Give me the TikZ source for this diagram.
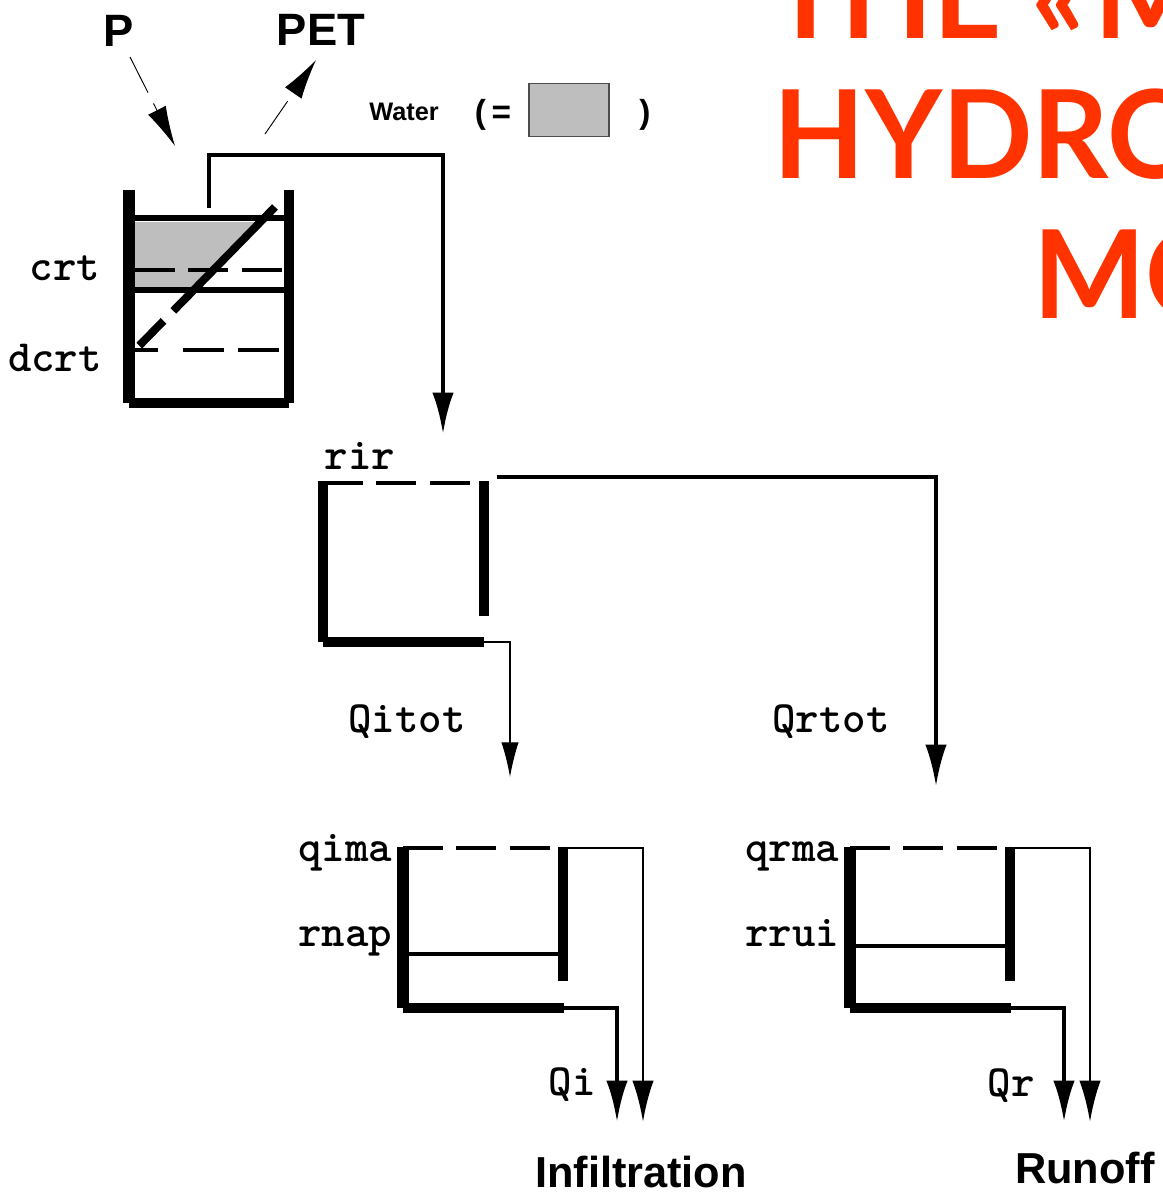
\documentclass[tikz,border=0pt]{standalone}
\usepackage{fontspec}
\setmainfont{Liberation Sans}
\newfontfamily\titlefont[FakeStretch=0.97]{Lato}
\usetikzlibrary{arrows.meta}
\definecolor{waterc}{RGB}{190,190,190}
\definecolor{titlec}{RGB}{255,51,0}

\begin{document}
\begin{tikzpicture}[
  x=0.75pt,y=-0.75pt,
  ttl/.style={font=\titlefont\fontsize{92}{92}\selectfont\bfseries,text=titlec,inner sep=0pt,anchor=base west},
  hd/.style={font=\fontsize{32.5}{32.5}\selectfont\bfseries,inner sep=0pt,anchor=base},
  lbl/.style={font=\ttfamily\bfseries\fontsize{33.5}{33.5}\selectfont,inner sep=0pt,anchor=base},
  wall/.style={line width=9pt},
  rwall/.style={line width=7.5pt},
  floor/.style={line width=8pt},
  dashline/.style={line width=3.5pt,dash pattern=on 30pt off 10pt},
  ar/.style={-{Latex[length=31pt,width=16pt]}},
  arflux/.style={ar,line width=3.2pt},
  arover/.style={ar,line width=2.2pt},
  arthin/.style={-{Latex[length=30pt,width=15pt]},line width=0.7pt,dash pattern=on 30pt off 9pt}
]
\clip (0,0) rectangle (1163,1196);
% title
\node[ttl] (t1) at (770,38) {THE\hspace{22pt}«\hspace{7pt}M};
\node[ttl] (t2) at (773,178) {HYDRO};
\node[ttl] (t3) at (1033,318) {MO};
% evaporation and rain
\node[hd,font=\fontsize{34}{34}\selectfont\bfseries] (p) at (119,46) {P};
\node[hd,font=\fontsize{34}{34}\selectfont\bfseries] (pet) at (321,45) {PET};
\coordinate (pin) at (130,57);
\coordinate (pout) at (175,146);
\coordinate (etin) at (265,134);
\coordinate (etout) at (316,60);
\draw[arthin] (pin)--(pout);
\draw[arthin] (etin)--(etout);
% legend
\node[font=\bfseries\fontsize{19}{19}\selectfont,inner sep=0pt] (water) at (404,112) {Water};
\node[font=\bfseries\fontsize{25}{25}\selectfont,inner sep=0pt] (eq) at (493,115) {(\,=};
\node[draw=black!70,fill=waterc,line width=0.8pt,minimum width=60pt,minimum height=40pt,inner sep=0pt] (swatch) at (569,110) {};
\node[font=\bfseries\fontsize{25}{25}\selectfont,inner sep=0pt] (cl) at (645,115) {)};
% top tank
\fill[waterc] (135,222)--(258,222)--(194,288)--(135,290)--cycle;
\draw[wall] (129,190)--(129,403);
\draw[rwall] (289,190)--(289,403);
\draw[floor] (129,403)--(289,403);
\draw[line width=5pt] (135,218)--(285,218);
\draw[line width=5pt] (135,290)--(285,290);
\draw[dashline] (135,270)--(285,270);
\draw[line width=3.5pt,dash pattern=on 17pt off 19pt on 31pt off 10pt on 31pt] (135,350)--(280,350);
\draw[line width=6pt,dash pattern=on 109pt off 10.5pt on 26pt off 99pt] (275,207)--(135,350);
\node[lbl] (crt) at (65,280) {crt};
\node[lbl] (dcrt) at (55,371) {dcrt};
\coordinate (tankout) at (209,208);
\coordinate (ririn) at (443,434);
\draw[arflux] (tankout)--(209,155)--(443,155)--(ririn);
% rir tank
\draw[line width=7pt] (323,481)--(323,642);
\draw[line width=8pt] (484,481)--(484,616);
\draw[line width=7pt] (323,642)--(484,642);
\draw[dashline] (323,483)--(480,483);
\node[lbl] (rir) at (360,469) {rir};
\node[lbl] (qitot) at (407,732) {Qitot};
\node[lbl] (qrtot) at (831,732) {Qrtot};
\coordinate (qiout) at (484,642);
\coordinate (qiin) at (510,777);
\coordinate (qrout) at (497,477);
\coordinate (qrin) at (936,786);
\draw[-{Latex[length=26pt,width=13pt]},line width=0.8pt] (qiout)--(510,642)--(qiin);
\draw[arflux,line width=2.6pt] (qrout)--(936,477)--(qrin);
% infiltration tank
\draw[wall] (403,847)--(403,1008);
\draw[rwall] (563,847)--(563,981);
\draw[floor] (403,1008)--(564,1008);
\draw[dashline] (403,848)--(563,848);
\draw[line width=3.7pt] (408,954)--(560,954);
\node[lbl] (qima) at (345,861) {qima};
\node[lbl] (rnap) at (345,946) {rnap};
\node[lbl] (qi) at (572,1095) {Qi};
\coordinate (ia) at (563,848);
\coordinate (ib) at (643,1122);
\coordinate (ic) at (563,1008);
\coordinate (id) at (617,1122);
\draw[arover] (ia)--(643,848)--(ib);
\draw[arflux] (ic)--(617,1008)--(id);
\node[hd] (infil) at (641,1187) {Infiltration};
% runoff tank
\draw[wall] (850,847)--(850,1008);
\draw[rwall] (1010,847)--(1010,981);
\draw[floor] (850,1008)--(1011,1008);
\draw[dashline] (850,848)--(1010,848);
\draw[line width=3.7pt] (855,946)--(1007,946);
\node[lbl] (qrma) at (792,861) {qrma};
\node[lbl] (rrui) at (792,946) {rrui};
\node[lbl] (qr) at (1011,1096) {Qr};
\coordinate (ra) at (1010,848);
\coordinate (rb) at (1090,1122);
\coordinate (rc) at (1010,1008);
\coordinate (rd) at (1064,1122);
\draw[arover] (ra)--(1090,848)--(rb);
\draw[arflux] (rc)--(1064,1008)--(rd);
\node[hd] (runoff) at (1085,1183) {Runoff};
\end{tikzpicture}
\end{document}
